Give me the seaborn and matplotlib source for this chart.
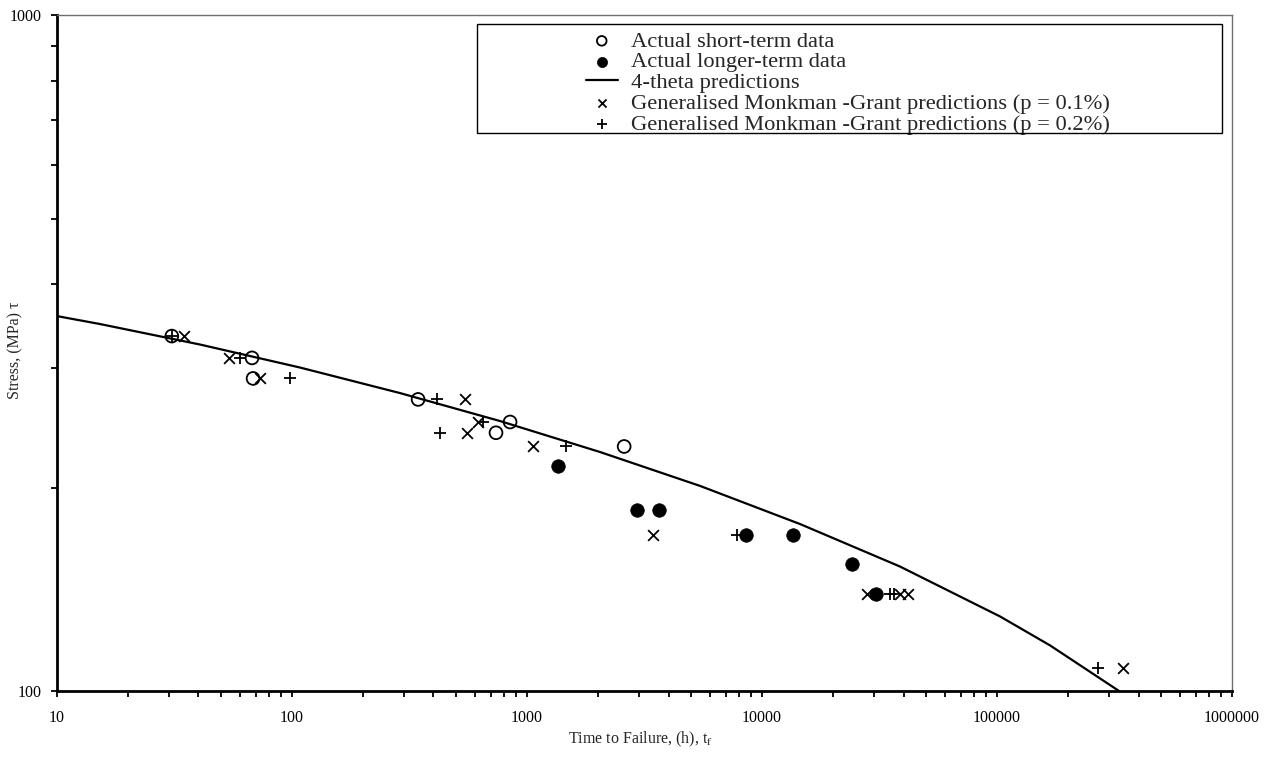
import numpy as np
import pandas as pd
import seaborn as sns
import matplotlib.pyplot as plt
from matplotlib.patches import Rectangle
from matplotlib.ticker import LogLocator, FuncFormatter, NullFormatter

# stress rupture data (time in h, stress in MPa)
short_time = [30.8, 67.6, 68.3, 344, 738, 847, 2590]
short_stress = [335, 311, 290, 270, 241, 250, 230]

long_time = [1355, 2940, 3650, 8550, 13550, 24150, 30500]
long_stress = [215, 185, 185, 170, 170, 154, 139]

theta_time = [10, 15.2, 40.6, 108, 288, 768, 2045, 5445, 14510, 38640, 103000, 168100, 330400]
theta_stress = [358.6, 349.1, 325.5, 301.0, 275.9, 250.8, 225.7, 201.1, 176.6, 152.8, 128.9, 116.8, 100]

mg01_time = [34.7, 53.9, 73.1, 545, 556, 618, 1062, 3440, 27980, 38650, 41800, 343500]
mg01_stress = [335, 311, 290, 270, 241, 250, 230, 170, 139, 139, 139, 108]

mg02_time = [30.8, 60.1, 98, 414, 426, 650, 1465, 7830, 35090, 36470, 269000]
mg02_stress = [335, 311, 290, 270, 241, 250, 230, 170, 139, 139, 108]

labels = ['Actual short-term data',
          'Actual longer-term data',
          '4-theta predictions',
          'Generalised Monkman -Grant predictions (p = 0.1%)',
          'Generalised Monkman -Grant predictions (p = 0.2%)']

sns.set_style('ticks')
plt.rcParams['font.family'] = ['Liberation Serif', 'DejaVu Serif']
plt.rcParams['mathtext.fontset'] = 'stix'

fig, ax = plt.subplots(figsize=(12.72, 7.59), dpi=100)
fig.subplots_adjust(left=0.0448, right=0.9686, bottom=0.0896, top=0.9802)

sns.scatterplot(x=short_time, y=short_stress, marker='o', s=85, facecolor='none',
                edgecolor='black', linewidth=1.3, label=labels[0], ax=ax, zorder=3)
sns.scatterplot(x=long_time, y=long_stress, marker='o', s=95, color='black',
                edgecolor='black', linewidth=0.5, label=labels[1], ax=ax, zorder=3)
sns.lineplot(x=theta_time, y=theta_stress, color='black', linewidth=1.6, sort=False,
             label=labels[2], ax=ax)
sns.scatterplot(x=mg01_time, y=mg01_stress, marker='x', s=60, color='black',
                linewidth=1.3, label=labels[3], ax=ax, zorder=3)
sns.scatterplot(x=mg02_time, y=mg02_stress, marker='+', s=75, color='black',
                linewidth=1.3, label=labels[4], ax=ax, zorder=3)

ax.set_xscale('log')
ax.set_yscale('log')
ax.set_xlim(10, 1e6)
ax.set_ylim(100, 1000)

ax.xaxis.set_major_locator(LogLocator(base=10))
ax.xaxis.set_minor_locator(LogLocator(base=10, subs=np.arange(2, 10)))
ax.yaxis.set_major_locator(LogLocator(base=10))
ax.yaxis.set_minor_locator(LogLocator(base=10, subs=np.arange(2, 10)))
fmt = FuncFormatter(lambda v, p: f'{int(round(v))}')
ax.xaxis.set_major_formatter(fmt)
ax.yaxis.set_major_formatter(fmt)
ax.xaxis.set_minor_formatter(NullFormatter())
ax.yaxis.set_minor_formatter(NullFormatter())

ax.tick_params(which='both', direction='out', length=4, width=1.3, color='black',
               labelsize=11.5, labelcolor='black')
ax.tick_params(axis='x', which='both', pad=10)
ax.tick_params(axis='y', which='both', pad=7)

for side in ['left', 'bottom']:
    ax.spines[side].set_linewidth(2)
    ax.spines[side].set_color('black')
for side in ['top', 'right']:
    ax.spines[side].set_linewidth(1)
    ax.spines[side].set_color('#6e6e6e')

ax.set_xlabel('Time to Failure, (h), t$_\\mathrm{f}$', fontsize=11.5)
ax.set_ylabel('Stress, (MPa) τ', fontsize=11.5)
ax.xaxis.set_label_coords(0.497, -0.058)
ax.yaxis.set_label_coords(-0.029, 0.504)

# legend box drawn separately so entries can sit right of its left edge
handles, labs = ax.get_legend_handles_labels()
ax.legend(handles, labs, loc='upper left', bbox_to_anchor=(586 / 1272, 1 - 31 / 759),
          bbox_transform=fig.transFigure, frameon=False, fontsize=16.2,
          borderpad=0, borderaxespad=0, handlelength=1.4, handletextpad=0.6,
          labelspacing=0, markerscale=0.75)
fig.patches.append(Rectangle((477 / 1272, 1 - 133 / 759), 745 / 1272, 109 / 759,
                             transform=fig.transFigure, fill=False,
                             edgecolor='black', linewidth=1, zorder=5))

fig.savefig('out.png', dpi=100)
